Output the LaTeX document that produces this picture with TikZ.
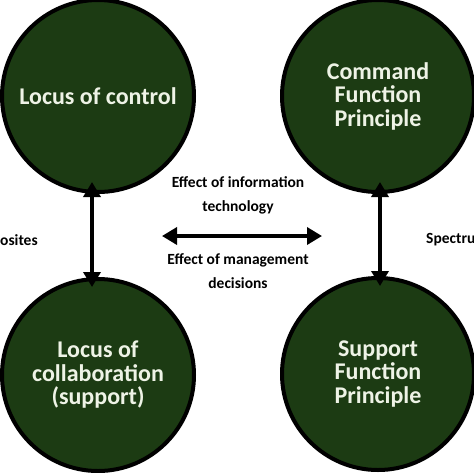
\documentclass[tikz,border=0pt]{standalone}
\usepackage{fontspec}
\setmainfont{Carlito}
\usetikzlibrary{arrows.meta}
\definecolor{cfill}{HTML}{1C3B13}
\definecolor{ctext}{HTML}{EEF3E6}
\begin{document}
\begin{tikzpicture}[x=1pt,y=-1pt,
  circ/.style={circle,draw=black,line width=4pt,fill=cfill,minimum size=192pt,
    inner sep=0pt,text=ctext,align=center,font=\fontsize{24}{23.5}\selectfont\bfseries},
  lbl/.style={align=center,font=\fontsize{15.5}{24}\selectfont\bfseries,text=black},
  arr/.style={line width=3.5pt,{Triangle[width=17pt,length=15pt]}-{Triangle[width=17pt,length=15pt]}}]
\useasboundingbox[fill=white] (0,0) rectangle (474,472);
\node[circ] (tl) at (98,96) {Locus of control};
\node[circ] (tr) at (378,96) {Command\\Function\\Principle};
\node[circ] (bl) at (98,375) {Locus of\\collaboration\\(support)};
\node[circ] (br) at (378,374) {Support\\Function\\Principle};
\node[lbl] (it) at (238,195) {Effect of information\\technology};
\node[lbl] (md) at (238,271) {Effect of management\\decisions};
\node[lbl,anchor=west,inner sep=0pt] (op) at (0,240) {osites};
\node[lbl,anchor=west,inner sep=0pt] (sp) at (426,240) {Spectru};
\coordinate (hl) at (162,236);
\coordinate (hr) at (322,236);
\draw[arr] (hl) -- (hr);
\draw[arr,shorten <=-12pt,shorten >=-10pt] ([xshift=-6pt]tl.south) -- ([xshift=-6pt]bl.north);
\draw[arr,shorten <=-12pt,shorten >=-10pt] ([xshift=2pt]tr.south) -- ([xshift=2pt]br.north);
\end{tikzpicture}
\end{document}
